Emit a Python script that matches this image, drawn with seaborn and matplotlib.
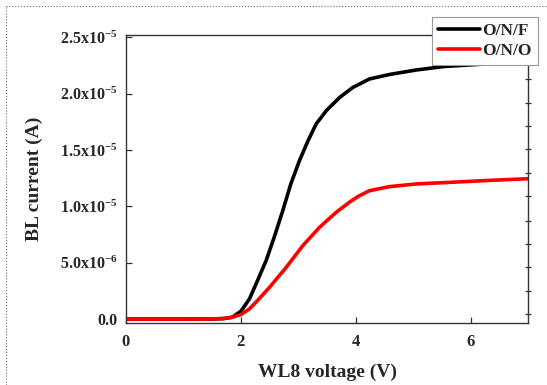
import numpy as np
import pandas as pd
import seaborn as sns
import matplotlib
matplotlib.use("Agg")
import matplotlib.pyplot as plt
from matplotlib.lines import Line2D

# ---- data ----
onf_v = [0, 0.5, 1.0, 1.5, 1.7, 1.85, 2.0, 2.15, 2.29, 2.44, 2.58, 2.73, 2.87,
         3.02, 3.17, 3.31, 3.49, 3.72, 3.95, 4.24, 4.59, 5.06, 5.53, 6.0, 6.5, 7.0]
onf_i = [0, 0, 0, 0.01, 0.04, 0.16, 0.69, 1.79, 3.41, 5.19, 7.25, 9.62, 11.99,
         14.05, 15.82, 17.3, 18.5, 19.66, 20.55, 21.3, 21.7, 22.1, 22.4, 22.55, 22.7, 22.8]
ono_v = [0, 0.5, 1.0, 1.5, 1.7, 1.85, 2.0, 2.15, 2.29, 2.5, 2.79, 3.08, 3.37,
         3.66, 3.9, 4.05, 4.24, 4.59, 5.06, 5.65, 6.23, 7.0]
ono_i = [0, 0, 0, 0.01, 0.05, 0.16, 0.4, 0.9, 1.64, 2.82, 4.59, 6.52, 8.14,
         9.47, 10.4, 10.9, 11.39, 11.75, 11.99, 12.13, 12.28, 12.45]
series_names = ["O/N/F", "O/N/O"]
series_colors = ["#000000", "#ff0000"]
x_ticks = [0, 2, 4, 6]
y_ticks = [0.0, 5e-6, 1e-5, 1.5e-5, 2e-5, 2.5e-5]
y_ticklabels = ["0.0", "5.0x10$^{-6}$", "1.0x10$^{-5}$", "1.5x10$^{-5}$",
                "2.0x10$^{-5}$", "2.5x10$^{-5}$"]
right_ticks_e6 = [0.46, 2.53, 4.59, 6.67, 8.73, 10.9, 13.0, 15.1, 17.15, 19.2, 21.3]

df = pd.concat([
    pd.DataFrame({"V": onf_v, "I": np.array(onf_i) * 1e-6, "dev": series_names[0]}),
    pd.DataFrame({"V": ono_v, "I": np.array(ono_i) * 1e-6, "dev": series_names[1]}),
], ignore_index=True)

sns.set_theme(style="ticks")
plt.rcParams["font.family"] = ["Liberation Serif", "DejaVu Serif"]
plt.rcParams["font.weight"] = "bold"
plt.rcParams["mathtext.fontset"] = "custom"
plt.rcParams["mathtext.rm"] = "Liberation Serif:bold"
plt.rcParams["mathtext.it"] = "Liberation Serif:bold"
plt.rcParams["mathtext.bf"] = "Liberation Serif:bold"

fig = plt.figure(figsize=(5.47, 3.85), dpi=100)
ax = fig.add_axes([126 / 547, 1 - 323 / 385, (528 - 126) / 547, (323 - 35) / 385])

sns.lineplot(data=df, x="V", y="I", hue="dev", palette=series_colors,
             linewidth=2.6, ax=ax, legend=False, sort=True, estimator=None)

ax.set_xlim(0, 7)
ax.set_ylim(-3.5e-7, 2.52e-5)
ax.set_xticks(x_ticks)
ax.set_xticklabels([str(t) for t in x_ticks], fontsize=12, fontweight="bold")
ax.set_yticks(y_ticks)
ax.set_yticklabels(y_ticklabels, fontsize=11.5, fontweight="bold")
ax.tick_params(axis="x", direction="in", length=4, width=0.9, pad=8, color="#333333")
ax.tick_params(axis="y", direction="in", length=4, width=0.9, pad=6, color="#333333")
for s in ax.spines.values():
    s.set_color("#333333")
    s.set_linewidth(1.0)
    s.set_visible(True)

ax.set_xlabel("WL8 voltage (V)", fontsize=14, fontweight="bold", labelpad=10)
ax.set_ylabel("BL current (A)", fontsize=14, fontweight="bold")
ax.yaxis.set_label_coords(-(126 - 43) / 402, 0.5)

# right-hand ticks
ax2 = ax.twinx()
ax2.set_ylim(ax.get_ylim())
ax2.set_yticks(np.array(right_ticks_e6) * 1e-6)
ax2.set_yticklabels([])
ax2.tick_params(axis="y", direction="inout", length=4, width=0.9, color="#333333")
for s in ax2.spines.values():
    s.set_visible(False)

# legend
handles = [plt.Line2D([], [], color=c, linewidth=2.6) for c in series_colors]
leg = ax.legend(handles, series_names, loc="upper right",
                bbox_to_anchor=(538 / 547, 1 - 17 / 385), bbox_transform=fig.transFigure,
                borderaxespad=0, frameon=True, fancybox=False, framealpha=1,
                handlelength=2.4, handletextpad=0.15, borderpad=0.35, labelspacing=0.2,
                prop={"family": "Liberation Serif", "weight": "bold", "size": 12.5})
leg.get_frame().set_edgecolor("#999999")
leg.get_frame().set_linewidth(0.8)
leg.set_zorder(10)

# dotted border of the figure (only top and left are visible in the reference)
bx, by = 6 / 547, 1 - 6 / 385
fig.add_artist(Line2D([bx, 1.0], [by, by], transform=fig.transFigure,
                      color="#666666", linewidth=0.8, linestyle=":"))
fig.add_artist(Line2D([bx, bx], [0.0, by], transform=fig.transFigure,
                      color="#666666", linewidth=0.8, linestyle=":"))

fig.savefig("out.png", dpi=100)
